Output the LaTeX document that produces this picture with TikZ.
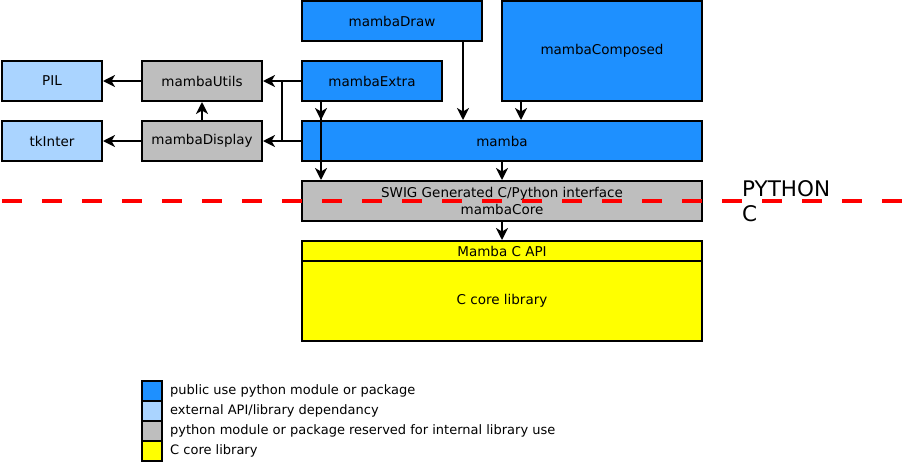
\documentclass[tikz,border=0pt]{standalone}
\usepackage{fontspec}
\setmainfont{DejaVu Sans}
\usetikzlibrary{arrows.meta}
\definecolor{pubblue}{HTML}{1E90FF}
\definecolor{extblue}{HTML}{AAD4FF}
\definecolor{intgray}{HTML}{BEBEBE}
\definecolor{coreyellow}{HTML}{FFFF00}
\tikzset{
  box/.style={draw=black, line width=2pt, inner sep=0pt, font=\fontsize{13.5}{15}\selectfont},
  pub/.style={box, fill=pubblue},
  ext/.style={box, fill=extblue},
  int/.style={box, fill=intgray},
  core/.style={box, fill=coreyellow},
  arr/.style={line width=2pt, -{Stealth[length=12pt,width=12pt,inset=3.5pt]}},
  conn/.style={line width=2pt},
  legsq/.style={draw=black, line width=2pt, minimum width=20pt, minimum height=20pt, inner sep=0pt},
  legtxt/.style={anchor=west, inner sep=0pt, font=\fontsize{13}{14}\selectfont},
}
\begin{document}
\begin{tikzpicture}[x=1pt,y=-1pt]
\useasboundingbox (0,0) rectangle (906,464);
% boxes
\node[ext, minimum width=100pt, minimum height=40pt] (pil) at (52,81) {PIL};
\node[int, minimum width=120pt, minimum height=40pt] (utils) at (202,81) {mambaUtils};
\node[ext, minimum width=100pt, minimum height=40pt] (tk) at (52,141) {tkInter};
\node[int, minimum width=120pt, minimum height=40pt] (display) at (202,141) {mambaDisplay};
\node[pub, minimum width=180pt, minimum height=40pt] (draw) at (392,21) {mambaDraw};
\node[pub, minimum width=200pt, minimum height=100pt] (composed) at (602,51) {mambaComposed};
\node[pub, minimum width=140pt, minimum height=40pt] (extra) at (372,81) {mambaExtra};
\node[pub, minimum width=400pt, minimum height=40pt] (mamba) at (502,141) {mamba};
\node[int, minimum width=400pt, minimum height=40pt, align=center,
      font=\fontsize{13.5}{17}\selectfont] (swig) at (502,201) {SWIG Generated C/Python interface\\mambaCore};
\node[core, minimum width=400pt, minimum height=20pt] (capi) at (502,251) {Mamba C API};
\node[core, minimum width=400pt, minimum height=80pt] (clib) at (502,301) {C core library};
% connector anchors
\path (draw.south east) ++(-20,0) coordinate (a1);
\path (composed.south west) ++(20,0) coordinate (a2);
\path (extra.south west) ++(20,0) coordinate (a3);
\coordinate (j1) at (282,81);
\coordinate (j2) at (282,141);
% connectors
\draw[arr] (extra.west) -- (utils.east);
\draw[arr] (mamba.west) -- (display.east);
\draw[conn] (j1) -- (j2);
\draw[arr] (utils.west) -- (pil.east);
\draw[arr] (display.west) -- (tk.east);
\draw[arr] (display.north) -- (utils.south);
\draw[arr] (a1) -- (a1 |- mamba.north);
\draw[arr] (a2) -- (a2 |- mamba.north);
\draw[arr] (a3) -- (a3 |- mamba.north);
\draw[arr] (a3) -- (a3 |- swig.north);
\draw[arr] (mamba.south) -- (swig.north);
\draw[arr] (swig.south) -- (capi.north);
% python / c separator
\coordinate (d1) at (2,201);
\coordinate (d2) at (906,201);
\draw[red, line width=3.5pt, dash pattern=on 20pt off 20pt] (d1) -- (d2);
\node[anchor=base west, inner sep=0pt, font=\fontsize{21.5}{25}\selectfont] (py) at (742,196) {PYTHON};
\node[anchor=base west, inner sep=0pt, font=\fontsize{21.5}{25}\selectfont] (cc) at (742,221) {C};
% legend
\node[legsq, fill=pubblue] (l1) at (152,391) {};
\node[legsq, fill=extblue] (l2) at (152,411) {};
\node[legsq, fill=intgray] (l3) at (152,431) {};
\node[legsq, fill=coreyellow] (l4) at (152,451) {};
\node[legtxt] (t1) at (170,391) {public use python module or package};
\node[legtxt] (t2) at (170,411) {external API/library dependancy};
\node[legtxt] (t3) at (170,431) {python module or package reserved for internal library use};
\node[legtxt] (t4) at (170,451) {C core library};
\end{tikzpicture}
\end{document}
